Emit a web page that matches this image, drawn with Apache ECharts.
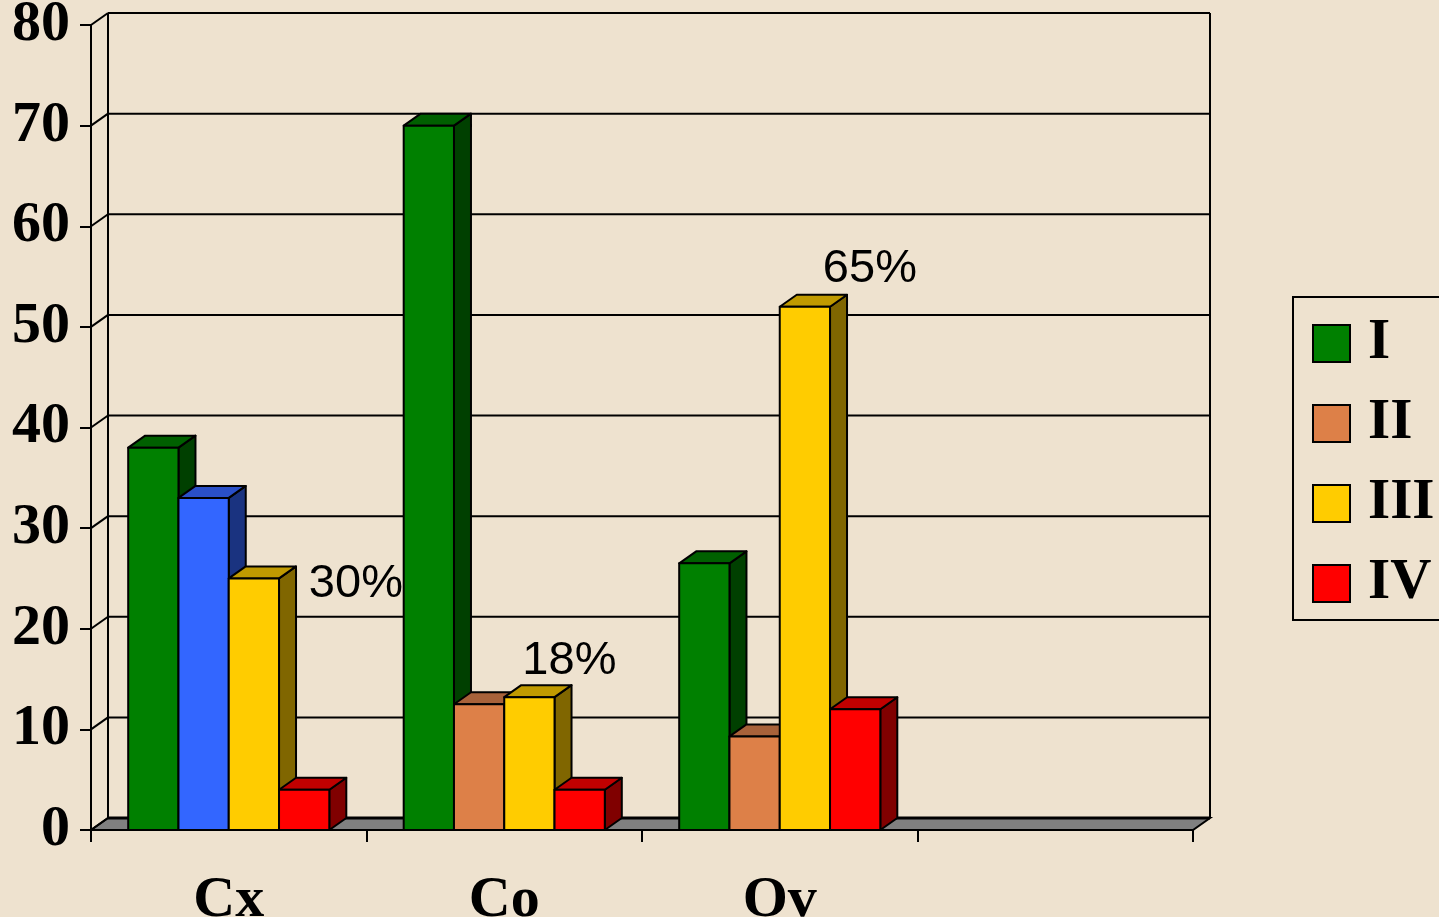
<!DOCTYPE html>
<html><head><meta charset="utf-8">
<script src="https://cdn.jsdelivr.net/npm/echarts@6/dist/echarts.min.js"></script>
<style>html,body{margin:0;padding:0;background:#EEE2CF;} #c{width:1439px;height:917px;}</style>
</head><body><div id="c"></div>
<script>
// ---- data ----
const categories = ['Cx', 'Co', 'Ov', ''];
const seriesNames = ['I', 'II', 'III', 'IV'];
const valuesI = [38, 70, 26.5];
const valuesII = [33, 12.5, 9.3];
const valuesIII = [25, 13.2, 52];
const valuesIV = [4, 4, 12];
const yTicks = [0, 10, 20, 30, 40, 50, 60, 70, 80];
const pctLabels = ['30%', '18%', '65%']; // attached to series III

// ---- styles ----
const faceColors = {
  I:   {front: '#008000', top: '#006000', side: '#004000'},
  II:  {front: '#DD8048', top: '#A8623A', side: '#6F4026'},
  III: {front: '#FFCC00', top: '#C09A00', side: '#806600'},
  IV:  {front: '#FF0000', top: '#C00000', side: '#800000'}
};
const overrideColors = {II: {0: {front: '#3366FF', top: '#2A50C8', side: '#1A3380'}}};
const labelOffsets = [[102, 6], [40, -36], [65, -38]];
const DX = 17, DY = 12;
const serif = "'Liberation Serif','Times New Roman',serif";
const sans = "'Liberation Sans',Arial,sans-serif";

const allValues = [valuesI, valuesII, valuesIII, valuesIV];

function barRender(si, name) {
  return function (params, api) {
    const cat = api.value(0), v = api.value(1);
    const band = api.size([1, 0])[0];
    const bw = band * 0.73 / 4;
    const c = api.coord([cat, v]);
    const base = api.coord([cat, 0])[1];
    const x0 = c[0] - 2 * bw + si * bw;
    const top = c[1];
    const col = (overrideColors[name] && overrideColors[name][params.dataIndex]) || faceColors[name];
    const st = {stroke: '#000', lineWidth: 2, lineJoin: 'round'};
    const children = [
      {type: 'polygon', shape: {points: [[x0 + bw, top], [x0 + bw + DX, top - DY], [x0 + bw + DX, base - DY], [x0 + bw, base]]},
        style: Object.assign({fill: col.side}, st)},
      {type: 'polygon', shape: {points: [[x0, top], [x0 + DX, top - DY], [x0 + bw + DX, top - DY], [x0 + bw, top]]},
        style: Object.assign({fill: col.top}, st)},
      {type: 'rect', shape: {x: x0, y: top, width: bw, height: base - top},
        style: Object.assign({fill: col.front}, st)}
    ];
    if (name === 'III' && pctLabels[params.dataIndex]) {
      const off = labelOffsets[params.dataIndex];
      children.push({type: 'text', style: {
        text: pctLabels[params.dataIndex], x: x0 + bw / 2 + off[0], y: top + off[1],
        align: 'center', verticalAlign: 'middle', fill: '#000',
        font: 'normal 47px ' + sans}});
    }
    return {type: 'group', children: children};
  };
}

function frameRender(params, api) {
  const cs = params.coordSys;
  const xl = cs.x, xr = cs.x + cs.width;
  const yb = api.coord([0, 0])[1];
  const yt = api.coord([0, yTicks[yTicks.length - 1]])[1];
  const ls = {stroke: '#000', lineWidth: 2};
  const ch = [];
  ch.push({type: 'polygon', shape: {points: [[xl, yb], [xr, yb], [xr + DX, yb - DY], [xl + DX, yb - DY]]},
    style: {fill: '#808080', stroke: '#000', lineWidth: 2}});
  yTicks.forEach(function (t) {
    const y = api.coord([0, t])[1];
    ch.push({type: 'line', shape: {x1: xl + DX, y1: y - DY, x2: xr + DX, y2: y - DY}, style: Object.assign({}, ls, {lineWidth: t === 0 ? 3 : 2})});
    ch.push({type: 'line', shape: {x1: xl, y1: y, x2: xl + DX, y2: y - DY}, style: ls});
  });
  ch.push({type: 'line', shape: {x1: xl + DX, y1: yt - DY, x2: xl + DX, y2: yb - DY}, style: ls});
  ch.push({type: 'line', shape: {x1: xr + DX, y1: yt - DY, x2: xr + DX, y2: yb - DY}, style: ls});
  return {type: 'group', children: ch};
}

const chart = echarts.init(document.getElementById('c'), null, {renderer: 'canvas'});
const series = [{
  type: 'custom', name: 'frame', z: 1, silent: true,
  renderItem: frameRender, data: [[0, 0]], encode: {x: 0, y: 1}
}];
seriesNames.forEach(function (n, si) {
  series.push({
    type: 'custom', name: n, z: 2 + si,
    itemStyle: {color: faceColors[n].front},
    renderItem: barRender(si, n),
    encode: {x: 0, y: 1},
    data: allValues[si].map(function (v, i) { return [i, v]; })
  });
});

chart.setOption({
  backgroundColor: '#EEE2CF',
  animation: false,
  grid: {left: 91, right: 246, top: 25, bottom: 87, containLabel: false, outerBoundsMode: 'none'},
  xAxis: {
    type: 'category', data: categories, boundaryGap: true,
    axisLine: {show: true, lineStyle: {color: '#000', width: 2}},
    axisTick: {show: true, length: 12, interval: 0, lineStyle: {color: '#000', width: 2}},
    axisLabel: {interval: 0, margin: 42, color: '#000', fontFamily: serif, fontWeight: 'bold', fontSize: 58},
    splitLine: {show: false}
  },
  yAxis: {
    type: 'value', min: 0, max: 80, interval: 10,
    axisLine: {show: true, lineStyle: {color: '#000', width: 2}},
    axisTick: {show: true, length: 11, lineStyle: {color: '#000', width: 2}},
    axisLabel: {margin: 21, color: '#000', fontFamily: serif, fontWeight: 'bold', fontSize: 58, padding: [15, 0, 0, 0]},
    splitLine: {show: false}
  },
  legend: {
    orient: 'vertical', left: 1293, top: 297, padding: [18, 30, 8, 19],
    itemWidth: 37, itemHeight: 37, itemGap: 23, icon: 'rect',
    borderColor: '#000', borderWidth: 2, borderRadius: 0,
    textStyle: {fontFamily: serif, fontWeight: 'bold', fontSize: 57, color: '#000', padding: [3, 0, 0, 13]},
    data: seriesNames.map(function (n) {
      return {name: n, itemStyle: {color: faceColors[n].front, borderColor: '#000', borderWidth: 2}};
    })
  },
  series: series
});
</script>
</body></html>
